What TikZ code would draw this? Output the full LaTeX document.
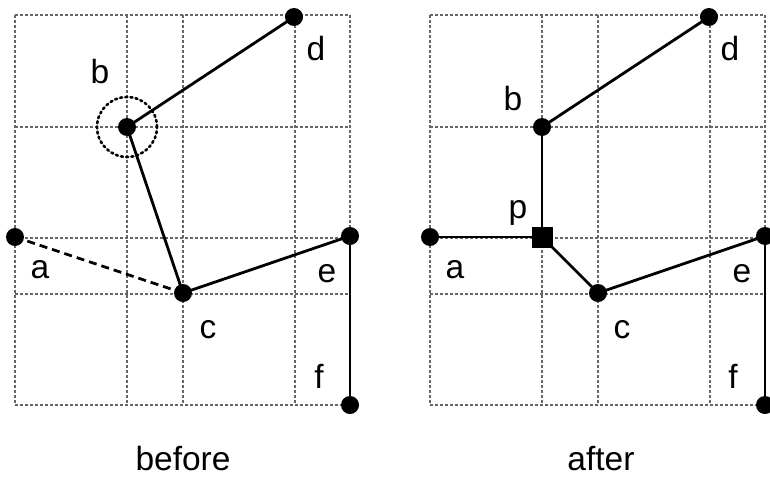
\documentclass[tikz,border=0pt]{standalone}
\usepackage{fontspec}
\setmainfont{Liberation Sans}
\begin{document}
\begin{tikzpicture}[x=1pt,y=-1pt,
 gridline/.style={draw=black!60, line width=1.5pt, dash pattern=on 3pt off 2pt},
 dot/.style={circle, fill=black, inner sep=0pt, minimum size=18pt},
 sq/.style={rectangle, fill=black, inner sep=0pt, minimum size=21pt},
 edge/.style={line width=2.8pt},
 dashedge/.style={line width=2.8pt, dash pattern=on 8pt off 5pt},
 ring/.style={circle, draw=black, line width=2.6pt, dash pattern=on 2pt off 3.2pt, line cap=round, inner sep=0pt, minimum size=60pt},
 lbl/.style={anchor=base, font=\fontsize{33.5}{33.5}\selectfont, inner sep=0pt}]
\useasboundingbox (0,0) rectangle (770,479);
% grids
\foreach \o in {0,415}{
  \foreach \x in {15,127,183,295,350} \draw[gridline] (\x+\o,15) -- (\x+\o,405);
  \foreach \y in {15,127,238,294,405} \draw[gridline] (15+\o,\y) -- (350+\o,\y);
}
% before
\node[ring] (ringb) at (127,127) {};
\node[dot] (a1) at (15,237) {};
\node[dot] (b1) at (127,127) {};
\node[dot] (c1) at (183,293) {};
\node[dot] (d1) at (294,17) {};
\node[dot] (e1) at (350,236) {};
\node[dot] (f1) at (350,405) {};
\draw[edge] (b1.center) -- (d1.center);
\draw[edge] (b1.center) -- (c1.center);
\draw[edge] (c1.center) -- (e1.center);
\draw[edge] (e1.center) -- (f1.center);
\draw[dashedge] (a1.center) -- (c1.center);
\node[lbl] (lb1) at (100,83) {b};
\node[lbl] (ld1) at (316,60) {d};
\node[lbl] (la1) at (40,278) {a};
\node[lbl] (le1) at (327,282) {e};
\node[lbl] (lc1) at (208,338) {c};
\node[lbl] (lf1) at (319,388) {f};
\node[lbl] (before) at (183,470) {before};
% after
\node[dot] (a2) at (430,237) {};
\node[dot] (b2) at (542,127) {};
\node[sq] (p2) at (542,237) {};
\node[dot] (c2) at (598,293) {};
\node[dot] (d2) at (709,17) {};
\node[dot] (e2) at (765,236) {};
\node[dot] (f2) at (765,405) {};
\draw[edge] (b2.center) -- (d2.center);
\draw[edge] (b2.center) -- (p2.center);
\draw[edge] (a2.center) -- (p2.center);
\draw[edge] (p2.center) -- (c2.center);
\draw[edge] (c2.center) -- (e2.center);
\draw[edge] (e2.center) -- (f2.center);
\node[lbl] (lb2) at (513,110) {b};
\node[lbl] (ld2) at (730,60) {d};
\node[lbl] (lp2) at (518,218) {p};
\node[lbl] (la2) at (455,278) {a};
\node[lbl] (le2) at (742,282) {e};
\node[lbl] (lc2) at (622,338) {c};
\node[lbl] (lf2) at (733,388) {f};
\node[lbl] (after) at (601,470) {after};
\end{tikzpicture}
\end{document}
